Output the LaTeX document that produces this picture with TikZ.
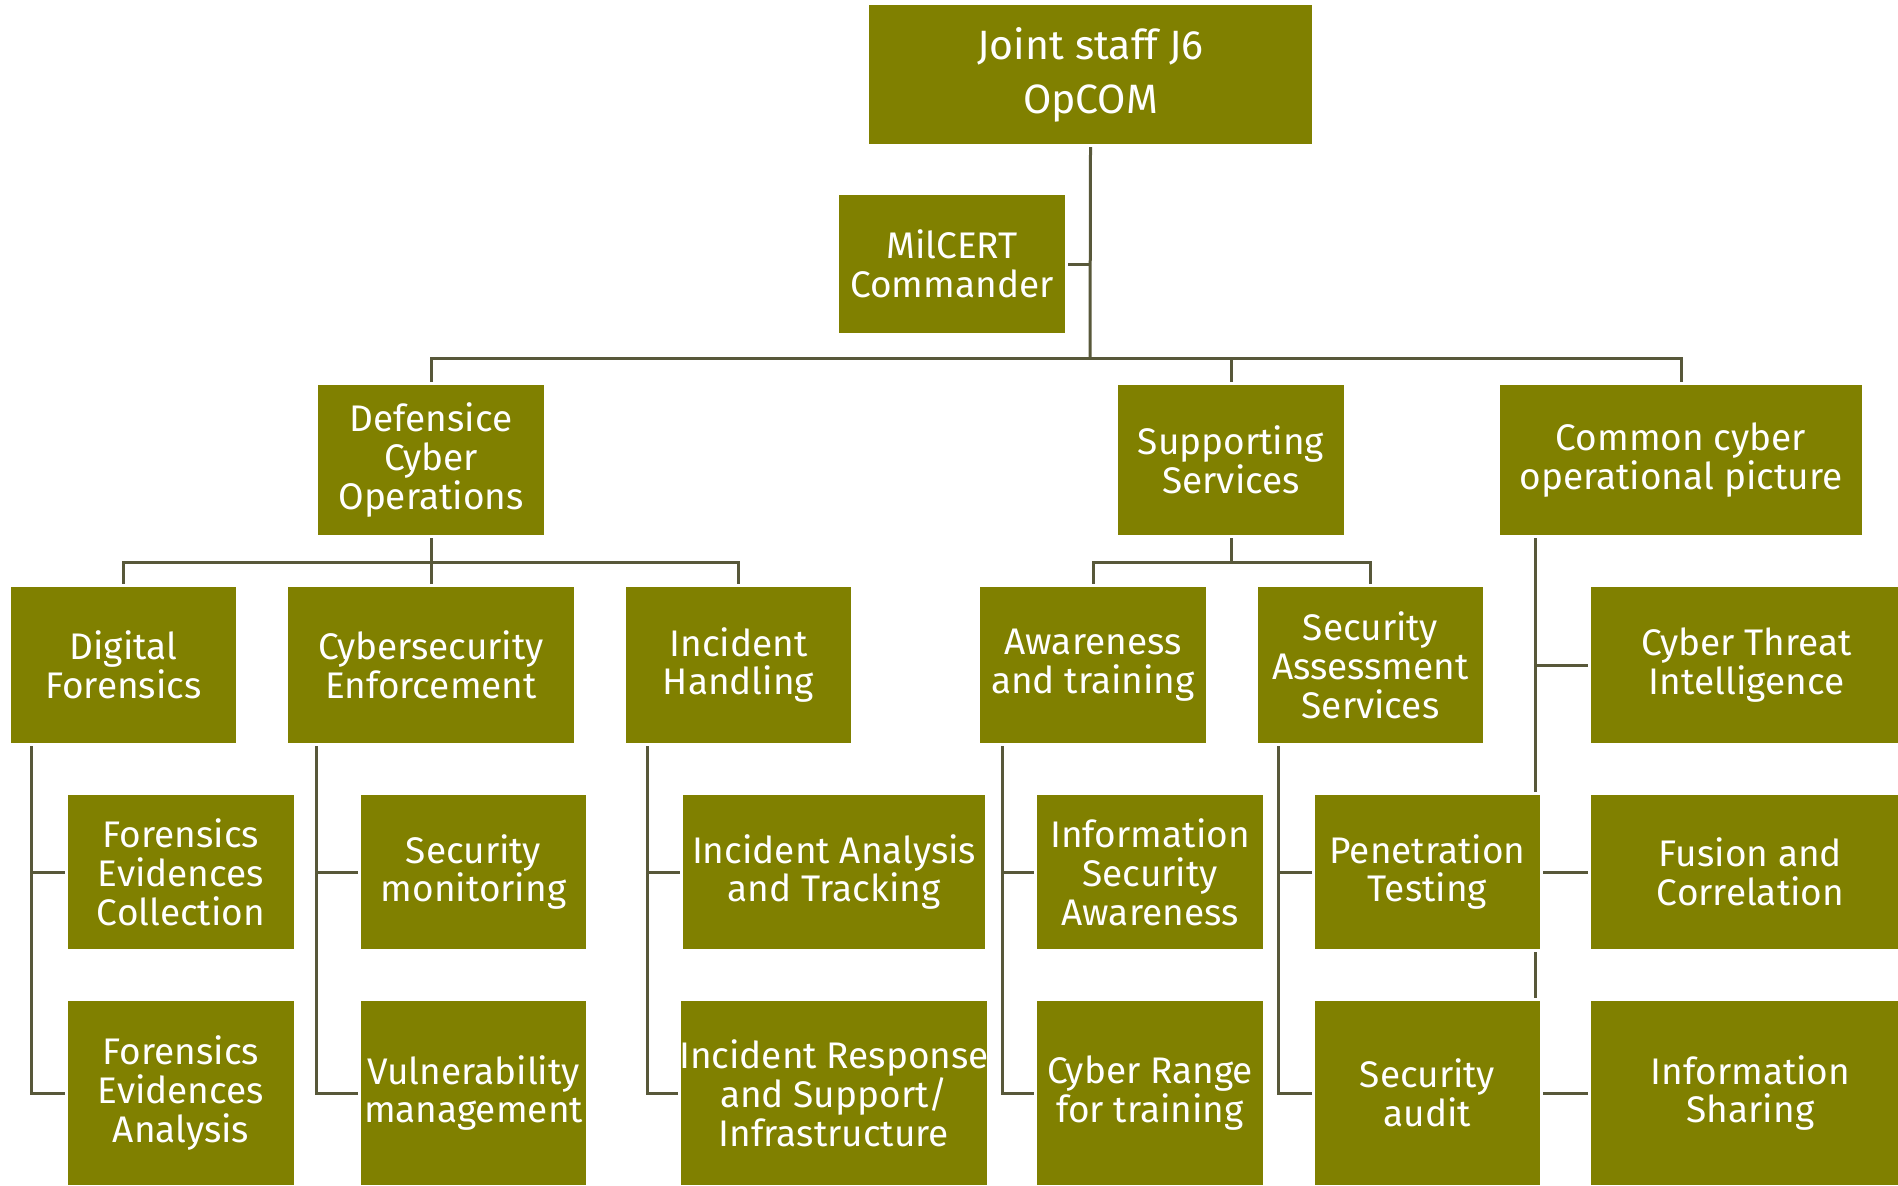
\documentclass[tikz,border=0pt]{standalone}
\usepackage{fontspec}
\setmainfont{Fira Sans}
\definecolor{olivebox}{RGB}{128,128,0}
\definecolor{linec}{RGB}{88,88,58}
\pgfdeclarelayer{paper}
\pgfdeclarelayer{lines}
\pgfsetlayers{paper,lines,main}
\tikzset{
  box/.style={draw=white, line width=1.5pt, fill=olivebox, text=white, align=center, inner sep=0pt,
    font=\fontsize{18.5}{19.4}\selectfont},
  rootfont/.style={font=\fontsize{20.5}{27}\selectfont},
  conn/.style={draw=linec, line width=1.5pt}
}
\newcommand\orgbox[7][]{%
  \pgfmathsetmacro\obw{(#5-#3)*0.5+1.5}%
  \pgfmathsetmacro\obh{(#6-#4)*0.5+1.5}%
  \node[box,#1, minimum width=\obw pt, minimum height=\obh pt] (#2) at ({(#3+#5)/2},{(#4+#6)/2}) {#7};}
\begin{document}
\begin{tikzpicture}[x=0.5pt,y=-0.5pt]
\useasboundingbox (0,0) rectangle (1898,1185);
\clip (0,0) rectangle (1898,1185);
\begin{pgfonlayer}{paper}
\fill[white] (0,0) rectangle (1898,1185);
\end{pgfonlayer}
% named junction coordinates
\coordinate (bus) at (1090,358);
\coordinate (dbus) at (431,562);
\coordinate (sbus) at (1231,562);
\coordinate (dfv) at (31.5,743);
\coordinate (cev) at (316,743);
\coordinate (ihv) at (647.6,743);
\coordinate (atv) at (1002,743);
\coordinate (sasv) at (1278,743);
\coordinate (copv) at (1535,535);
% boxes
\orgbox[rootfont]{root}{869}{5}{1312}{144}{Joint staff J6\\OpCOM}
\orgbox{mil}{839}{195}{1065}{333}{MilCERT\\Commander}
\orgbox{dco}{318}{385}{544}{535}{Defensice\\Cyber\\Operations}
\orgbox{sup}{1118}{385}{1344}{535}{Supporting\\Services}
\orgbox{cop}{1500}{385}{1862}{535}{Common cyber\\operational picture}
\orgbox{df}{11}{587}{236}{743}{Digital\\Forensics}
\orgbox{ce}{288}{587}{574}{743}{Cybersecurity\\Enforcement}
\orgbox{ih}{626}{587}{851}{743}{Incident\\Handling}
\orgbox{at}{980}{587}{1206}{743}{Awareness\\and training}
\orgbox{sas}{1258}{587}{1483}{743}{Security\\Assessment\\Services}
\orgbox{cti}{1591}{587}{1902}{743}{Cyber Threat\\Intelligence}
\orgbox{fec}{68}{795}{294}{949}{Forensics\\Evidences\\Collection}
\orgbox{sm}{361}{795}{586}{949}{Security\\monitoring}
\orgbox{iat}{683}{795}{985}{949}{Incident Analysis\\and Tracking}
\orgbox{isa}{1037}{795}{1263}{949}{Information\\Security\\Awareness}
\orgbox{pt}{1315}{795}{1540}{949}{Penetration\\Testing}
\orgbox{fc}{1591}{795}{1910}{949}{Fusion and\\Correlation}
\orgbox{fea}{68}{1001}{294}{1185}{Forensics\\Evidences\\Analysis}
\orgbox{vm}{361}{1001}{586}{1185}{Vulnerability\\management}
\orgbox{irs}{683}{1001}{985}{1185}{Incident Response\\and Support/\\Infrastructure}
\orgbox{cr}{1037}{1001}{1263}{1185}{Cyber Range\\for training}
\orgbox{sa}{1315}{1001}{1540}{1185}{Security\\audit}
\orgbox{is}{1591}{1001}{1910}{1185}{Information\\Sharing}
% connectors (behind boxes)
\begin{pgfonlayer}{lines}
\draw[conn] (root.south) -- (bus);
\draw[conn] (mil.east) -- (mil.east -| bus);
\draw[conn] (dco.north) -- (dco.north |- bus) -- (cop.north |- bus) -- (cop.north);
\draw[conn] (sup.north) -- (sup.north |- bus);
\draw[conn] (dco.south) -- (dbus);
\draw[conn] (df.north) -- (df.north |- dbus) -- (ih.north |- dbus) -- (ih.north);
\draw[conn] (ce.north) -- (ce.north |- dbus);
\draw[conn] (sup.south) -- (sbus);
\draw[conn] (at.north) -- (at.north |- sbus) -- (sas.north |- sbus) -- (sas.north);
\draw[conn] (dfv) |- (fea.west); \draw[conn] (dfv |- fec.west) -- (fec.west);
\draw[conn] (cev) |- (vm.west); \draw[conn] (cev |- sm.west) -- (sm.west);
\draw[conn] (ihv) |- (irs.west); \draw[conn] (ihv |- iat.west) -- (iat.west);
\draw[conn] (atv) |- (cr.west); \draw[conn] (atv |- isa.west) -- (isa.west);
\draw[conn] (sasv) |- (sa.west); \draw[conn] (sasv |- pt.west) -- (pt.west);
\draw[conn] (copv) |- (is.west); \draw[conn] (copv |- cti.west) -- (cti.west);
\draw[conn] (copv |- fc.west) -- (fc.west);
\end{pgfonlayer}
\end{tikzpicture}
\end{document}
